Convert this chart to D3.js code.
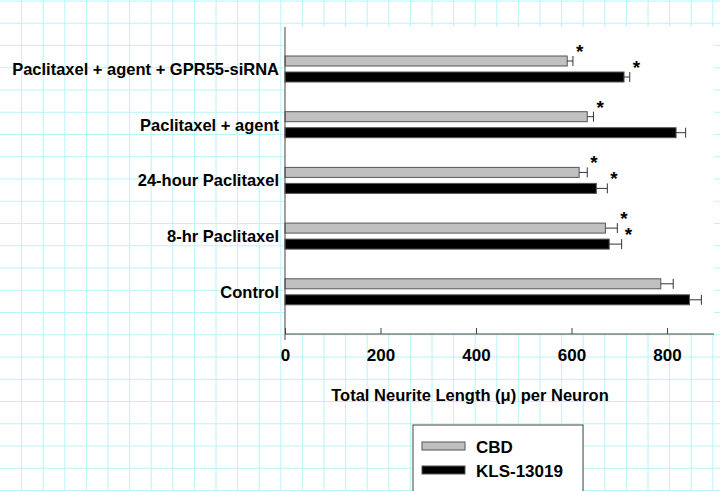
<!DOCTYPE html>
<html><head><meta charset="utf-8">
<script src="https://cdn.jsdelivr.net/npm/d3@7"></script>
<style>body{margin:0;background:#fff}svg{display:block}</style>
</head><body><svg id="c" width="720" height="491"></svg>
<script>
const categories = ["Paclitaxel  + agent + GPR55-siRNA","Paclitaxel + agent","24-hour Paclitaxel","8-hr Paclitaxel","Control"];
const cbd = [591, 633, 616, 671, 787];
const cbdErr = [12, 13, 17, 25, 26];
const kls = [710, 819, 652, 679, 847];
const klsErr = [12, 20, 23, 26, 25];
const cbdStar = [true, true, true, true, false];
const klsStar = [true, false, true, true, false];
const xTicks = [0, 200, 400, 600, 800];

const svg = d3.select("#c");
const W = 720, H = 491;
const F = "Liberation Sans, Arial";
const g0 = svg.append("g");
for (let x = 21.6; x < W; x += 21.6) g0.append("line").attr("x1", x).attr("x2", x).attr("y1", 0).attr("y2", H).attr("stroke", "#b8f4f8").attr("stroke-width", 1);
for (let y = 1; y < H; y += 22.25) g0.append("line").attr("y1", y).attr("y2", y).attr("x1", 0).attr("x2", W).attr("stroke", "#b8f4f8").attr("stroke-width", 1);

const L = 285, R = 714, T = 27, B = 334;
svg.append("rect").attr("x", L).attr("y", T).attr("width", R - L).attr("height", B - T).attr("fill", "#fff");

const x = d3.scaleLinear().domain([0, 900]).range([L, L + 95.5 * 4.5]);
const y = d3.scaleBand().domain(categories).range([T + 17, T + 17 + 55.7 * 5]);
const bh = 10, gap = 6;

const grp = svg.append("g").selectAll("g").data(categories).join("g")
  .attr("transform", d => `translate(0,${y(d)})`);
function bars(vals, errs, stars, off, fill) {
  grp.append("rect").attr("x", L).attr("y", off).attr("height", bh)
    .attr("width", (d, i) => x(vals[i]) - L).attr("fill", fill).attr("stroke", "#555").attr("stroke-width", 1);
  grp.append("line").attr("x1", (d, i) => x(vals[i])).attr("x2", (d, i) => x(vals[i] + errs[i]))
    .attr("y1", off + bh / 2).attr("y2", off + bh / 2).attr("stroke", "#333");
  grp.append("line").attr("x1", (d, i) => x(vals[i] + errs[i])).attr("x2", (d, i) => x(vals[i] + errs[i]))
    .attr("y1", off).attr("y2", off + bh).attr("stroke", "#333");
  grp.append("text").attr("x", (d, i) => x(vals[i] + errs[i]) + 3).attr("y", off + 2)
    .text((d, i) => stars[i] ? "*" : "").attr("font-family", F).attr("font-weight", "bold").attr("font-size", 19);
}
bars(cbd, cbdErr, cbdStar, 12, "#c0c0c0");
bars(kls, klsErr, klsStar, 12 + bh + gap, "#000");

grp.append("text").attr("x", 279).attr("y", 12 + bh + gap / 2 + 6).attr("text-anchor", "end")
  .attr("font-family", F).attr("font-weight", "bold").attr("font-size", 16.5).text(d => d);

const ax = svg.append("g").attr("transform", `translate(0,${B})`)
  .call(d3.axisBottom(x).tickValues(xTicks).tickSize(6).tickFormat(d3.format("d")));
ax.select(".domain").attr("d", `M${L},6V0H${R}`).attr("stroke", "#444");
ax.selectAll(".tick line").attr("stroke", "#444").attr("y1", -6).attr("y2", 0);
ax.selectAll("text").attr("font-family", F).attr("font-weight", "bold").attr("font-size", 17).attr("fill", "#000").attr("dy", "1.05em");
svg.append("line").attr("x1", L).attr("x2", L).attr("y1", T).attr("y2", B).attr("stroke", "#444");

svg.append("text").attr("x", 470).attr("y", 401).attr("text-anchor", "middle")
  .attr("font-family", F).attr("font-weight", "bold").attr("font-size", 16.5)
  .text("Total Neurite Length (μ) per Neuron");

const lg = svg.append("g");
lg.append("rect").attr("x", 413).attr("y", 425).attr("width", 170).attr("height", 70).attr("fill", "#fff").attr("stroke", "#444");
const legend = [["CBD", "#c0c0c0"], ["KLS-13019", "#000"]];
legend.forEach(([n, c], i) => {
  lg.append("rect").attr("x", 422).attr("y", 442 + i * 24).attr("width", 43).attr("height", 8).attr("fill", c).attr("stroke", "#555");
  lg.append("text").attr("x", 476).attr("y", 453 + i * 24).text(n)
    .attr("font-family", F).attr("font-weight", "bold").attr("font-size", 17);
});
</script></body></html>
